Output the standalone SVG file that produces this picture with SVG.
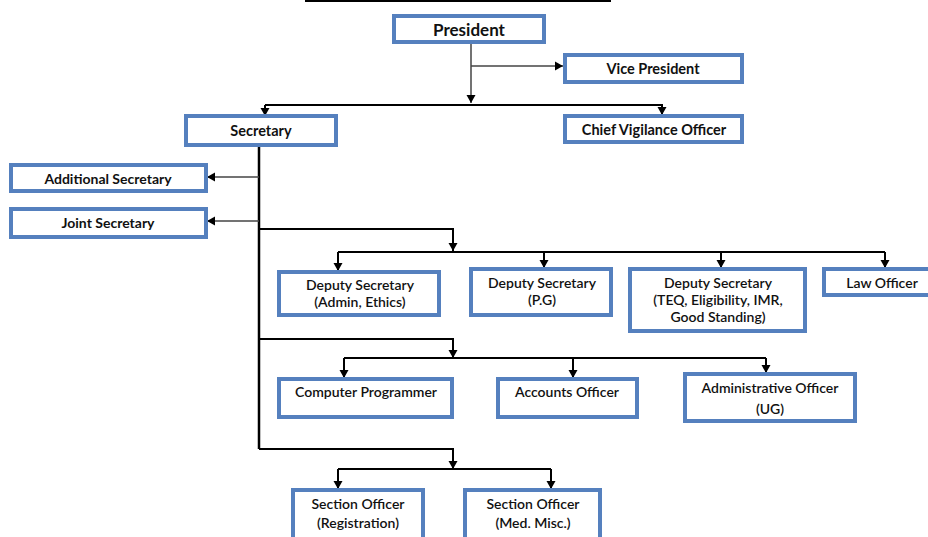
<svg xmlns="http://www.w3.org/2000/svg" width="928" height="537" viewBox="0 0 928 537">
<style>
.box{fill:#fff;stroke:#5580BE;stroke-width:4}
.t1{font-family:Lato,"Liberation Sans",sans-serif;font-weight:bold;fill:#111;text-anchor:middle}
.t2{font-family:Lato,"Liberation Sans",sans-serif;font-weight:600;font-size:14px;fill:#111;text-anchor:middle}
.c{fill:none;stroke:#000;stroke-width:2}
.cg{fill:none;stroke:#444;stroke-width:1.5}
.a{marker-end:url(#arr)}
</style>
<defs>
<marker id="arr" markerUnits="userSpaceOnUse" markerWidth="10" markerHeight="10" refX="8" refY="5" orient="auto" viewBox="0 0 10 10">
<path d="M0,0.5 L8,5 L0,9.5 z" fill="#000"/>
</marker>
</defs>
<rect x="0" y="0" width="928" height="537" fill="#fff"/>
<line x1="305" y1="1" x2="611" y2="1" stroke="#000" stroke-width="2"/>
<g id="connectors">
<path class="cg a" d="M471,44 V103"/>
<path class="cg a" d="M471,66 H563"/>
<path class="c" d="M265,105 H663"/>
<path class="c a" d="M265,105 V116"/>
<path class="c a" d="M662,105 V115"/>
<path class="c" d="M259,147 V449" style="stroke-width:2.5"/>
<path class="cg a" d="M259,177 H207"/>
<path class="cg a" d="M259,221 H207"/>
<path class="c a" d="M259,229 H453 V251"/>
<path class="c" d="M338,252 H885"/>
<path class="c a" d="M338,252 V271"/>
<path class="c a" d="M544,252 V268"/>
<path class="c a" d="M721,252 V268"/>
<path class="c a" d="M885,252 V268"/>
<path class="c a" d="M259,339 H453 V358"/>
<path class="c" d="M344,358 H766"/>
<path class="c a" d="M344,358 V378"/>
<path class="c a" d="M573,358 V378"/>
<path class="c a" d="M766,358 V373"/>
<path class="c a" d="M259,449 H453 V469"/>
<path class="c" d="M338,469 H551"/>
<path class="c a" d="M338,469 V489"/>
<path class="c a" d="M551,469 V489"/>
</g>
<g id="president"><rect class="box" x="394" y="16" width="150" height="26"/><text class="t1" x="469" y="36" font-size="17">President</text></g>
<g id="vice-president"><rect class="box" x="565" y="55" width="177" height="27"/><text class="t1" x="653" y="73.5" font-size="14.5">Vice President</text></g>
<g id="secretary"><rect class="box" x="186" y="116" width="150" height="29"/><text class="t1" x="261" y="135.5" font-size="14.5">Secretary</text></g>
<g id="cvo"><rect class="box" x="565" y="116" width="177" height="26"/><text class="t1" x="654" y="134.5" font-size="14.5">Chief Vigilance Officer</text></g>
<g id="additional-secretary"><rect class="box" x="11" y="165" width="195" height="26"/><text class="t1" x="108" y="183.5" font-size="14">Additional Secretary</text></g>
<g id="joint-secretary"><rect class="box" x="11" y="209" width="195" height="28"/><text class="t1" x="108" y="227.5" font-size="14">Joint Secretary</text></g>
<g id="ds-admin"><rect class="box" x="279" y="272" width="160" height="43"/><text class="t2" x="360" y="290">Deputy Secretary</text><text class="t2" x="360" y="307">(Admin, Ethics)</text></g>
<g id="ds-pg"><rect class="box" x="471" y="269" width="140" height="46"/><text class="t2" x="542" y="288">Deputy Secretary</text><text class="t2" x="542" y="305">(P.G)</text></g>
<g id="ds-teq"><rect class="box" x="630" y="269" width="175" height="62"/><text class="t2" x="718" y="288">Deputy Secretary</text><text class="t2" x="718" y="305">(TEQ, Eligibility, IMR,</text><text class="t2" x="718" y="322">Good Standing)</text></g>
<g id="law-officer"><rect class="box" x="824" y="269" width="110" height="26"/><text class="t2" x="882" y="288">Law Officer</text></g>
<g id="computer-programmer"><rect class="box" x="279" y="379" width="173" height="38"/><text class="t2" x="366" y="397">Computer Programmer</text></g>
<g id="accounts-officer"><rect class="box" x="498" y="379" width="139" height="38"/><text class="t2" x="567" y="397">Accounts Officer</text></g>
<g id="administrative-officer"><rect class="box" x="685" y="374" width="170" height="47"/><text class="t2" x="770" y="393">Administrative Officer</text><text class="t2" x="770" y="414">(UG)</text></g>
<g id="so-registration"><rect class="box" x="293" y="490" width="130" height="60"/><text class="t2" x="358" y="509">Section Officer</text><text class="t2" x="358" y="528">(Registration)</text></g>
<g id="so-med"><rect class="box" x="465" y="490" width="135" height="60"/><text class="t2" x="533" y="509">Section Officer</text><text class="t2" x="533" y="528">(Med. Misc.)</text></g>
</svg>
